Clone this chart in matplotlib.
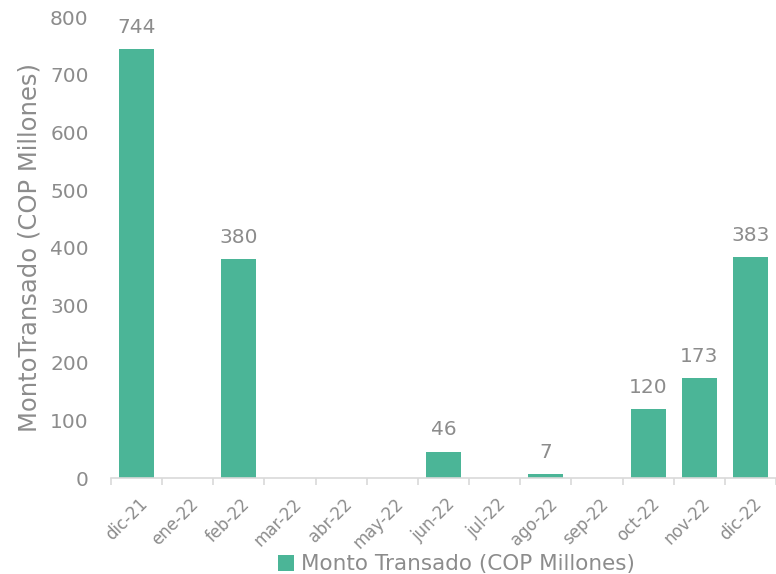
import numpy as np
import matplotlib
matplotlib.use("Agg")
import matplotlib.pyplot as plt
from matplotlib.transforms import ScaledTranslation

months = ['dic-21', 'ene-22', 'feb-22', 'mar-22', 'abr-22', 'may-22', 'jun-22',
          'jul-22', 'ago-22', 'sep-22', 'oct-22', 'nov-22', 'dic-22']
monto = [744, 0, 380, 0, 0, 0, 46, 0, 7, 0, 120, 173, 383]
series_name = 'Monto Transado (COP Millones)'

bar_color = '#4bb597'
text_grey = '#8c8c8c'
line_grey = '#d9d9d9'

plt.rcParams['font.family'] = ['DejaVu Sans']

fig = plt.figure(figsize=(7.76, 5.74), dpi=100)
ax = fig.add_axes([0.143, 0.167, 0.857, 0.803])

x = np.arange(len(months))
bars = ax.bar(x, monto, width=0.68, color=bar_color, label=series_name, zorder=2)

# value labels only where there is a bar
for xi, v in zip(x, monto):
    if v > 0:
        ax.annotate(str(v), (xi, v), xytext=(0, 9), textcoords='offset points',
                    ha='center', va='bottom', fontsize=14.5, color=text_grey)

ax.set_xlim(-0.5, len(months) - 0.5)
ax.set_ylim(0, 800)
ax.set_yticks(np.arange(0, 801, 100))
ax.tick_params(axis='y', length=0, labelsize=14.5, labelcolor=text_grey, pad=16)

ax.set_xticks(x)
ax.set_xticklabels(months, rotation=45, ha='right', va='top', rotation_mode='anchor')
ax.tick_params(axis='x', which='major', length=0, labelsize=12, labelcolor=text_grey, pad=12)
# nudge the slanted labels a little to the right, like the original
shift = ScaledTranslation(1.5 / 72, 0, fig.dpi_scale_trans)
for lbl in ax.get_xticklabels():
    lbl.set_transform(lbl.get_transform() + shift)
ax.set_xticks(np.arange(-0.5, len(months)), minor=True)
ax.tick_params(axis='x', which='minor', length=5, width=1.2, color=line_grey)

for side in ['top', 'right', 'left']:
    ax.spines[side].set_visible(False)
ax.spines['bottom'].set_color(line_grey)
ax.spines['bottom'].set_linewidth(1.2)

ax.set_ylabel('MontoTransado (COP Millones)', fontsize=17.5, color=text_grey, labelpad=6)

leg = fig.legend(handles=[bars], labels=[series_name], loc='lower center',
                 bbox_to_anchor=(0.588, -0.034), frameon=False, fontsize=15.5,
                 handlelength=0.75, handleheight=0.75, handletextpad=0.3)
for t in leg.get_texts():
    t.set_color(text_grey)

fig.savefig('out.png', dpi=100)
